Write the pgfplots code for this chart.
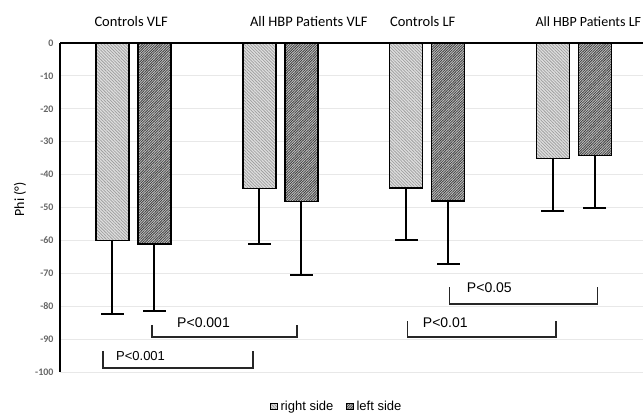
\documentclass[border=0pt]{standalone}
\usepackage{pgfplots}
\pgfplotsset{compat=1.18}
\usepackage{fontspec}
\setmainfont{Carlito}
\newfontfamily\arial{Liberation Sans}
\usetikzlibrary{patterns.meta,calc}

\pgfplotsset{
  rightstyle/.style={draw=black, line width=1.5pt, fill=gray!25,
    postaction={pattern={Lines[angle=-45,distance=2.2pt,line width=0.75pt]}, pattern color=gray!75}},
  leftstyle/.style={draw=black, line width=1.5pt, fill=gray!45,
    postaction={pattern={Lines[angle=45,distance=1.8pt,line width=0.8pt]}, pattern color=black!75}},
  sqlegend/.style={legend image code/.code={\draw[##1, line width=0.8pt] (0pt,-3.2pt) rectangle (6.4pt,3.2pt);}},
}
\newcommand{\tl}[1]{\textbf{\fontsize{10}{12}\selectfont #1}}

\begin{document}
\begin{tikzpicture}
\begin{axis}[
  name=ax,
  scale only axis, width=583pt, height=329pt,
  xmin=-0.5, xmax=3.47, ymin=-100, ymax=0,
  ybar, bar width=0.225,
  clip=false,
  axis x line*=top, axis y line*=left,
  axis line style={line width=1.7pt, black},
  xtick=\empty,
  ytick={0,-10,-20,-30,-40,-50,-60,-70,-80,-90,-100},
  yticklabels={\tl{0},\tl{-10},\tl{-20},\tl{-30},\tl{-40},\tl{-50},\tl{-60},\tl{-70},\tl{-80},\tl{-90},\tl{-100}},
  major tick length=0pt,
  ymajorgrids, grid style={gray!18, line width=0.9pt},
  y tick label style={text=black!60, xshift=-3pt},
  ylabel={Phi (°)},
  y label style={at={(axis description cs:-0.0686,0.525)}, anchor=center, font=\fontsize{14}{16}\selectfont},
  legend style={at={(0.475,-0.105)}, anchor=center, draw=none, legend columns=2,
    font=\arial\fontsize{13}{15}\selectfont, inner sep=0pt,
    /tikz/every even column/.append style={column sep=11pt},
    /tikz/every odd column/.append style={column sep=1pt}},
  legend cell align=left,
]
\coordinate (pl) at (rel axis cs:0,0);
\coordinate (pr) at (rel axis cs:1,1);

\addplot[bar shift=-0.143, rightstyle, sqlegend,
  error bars/.cd, y dir=minus, y explicit,
  error bar style={line width=2pt, black},
  error mark options={rotate=90, mark size=11.5pt, line width=2pt, black}]
  coordinates {(0,-60.1) -= (0,22.2) (1,-44.2) -= (0,17.0) (2,-44.0) -= (0,16.0) (3,-35.1) -= (0,16.0)};
\addlegendentry{right side}

\addplot[bar shift=0.143, leftstyle, sqlegend,
  error bars/.cd, y dir=minus, y explicit,
  error bar style={line width=2pt, black},
  error mark options={rotate=90, mark size=11.5pt, line width=2pt, black}]
  coordinates {(0,-61.1) -= (0,20.4) (1,-48.1) -= (0,22.5) (2,-48.0) -= (0,19.1) (3,-34.2) -= (0,16.1)};
\addlegendentry{left side}

% category labels
\node[font=\fontsize{14.5}{17}\selectfont] at (axis cs:-0.015,6.6) {Controls VLF};
\node[font=\fontsize{14.5}{17}\selectfont, anchor=west] at (axis cs:0.77,6.6) {All HBP Patients VLF};
\node[font=\fontsize{14.5}{17}\selectfont] at (axis cs:1.97,6.6) {Controls LF};
\node[font=\fontsize{14}{17}\selectfont, anchor=west, inner xsep=1pt] at (axis cs:2.73,6.6) {All HBP Patients LF};

% significance brackets
\draw[line width=1.6pt, black!85] (axis cs:-0.208,-93.6) |- (axis cs:0.815,-98.8) -- (axis cs:0.815,-93.6);
\node[anchor=west, inner sep=0pt, font=\arial\fontsize{13}{15}\selectfont] at (axis cs:-0.119,-95.1) {P<0.001};
\draw[line width=1.6pt, black!85] (axis cs:0.126,-85.7) |- (axis cs:1.115,-89.4) -- (axis cs:1.115,-85.7);
\node[anchor=west, inner sep=0pt, font=\arial\fontsize{14}{16}\selectfont] at (axis cs:0.297,-85.0) {P<0.001};
\draw[line width=1.6pt, black!85] (axis cs:2.152,-74.2) |- (axis cs:3.16,-79.3) -- (axis cs:3.16,-74.2);
\node[anchor=west, inner sep=0pt, font=\arial\fontsize{14}{16}\selectfont] at (axis cs:2.27,-74.5) {P<0.05};
\draw[line width=1.6pt, black!85] (axis cs:1.866,-84.5) |- (axis cs:2.876,-89.4) -- (axis cs:2.876,-84.5);
\node[anchor=west, inner sep=0pt, font=\arial\fontsize{14}{16}\selectfont] at (axis cs:1.97,-85.0) {P<0.01};
\end{axis}
\pgfresetboundingbox
\path[use as bounding box] ($(pl)+(-60pt,-41pt)$) rectangle ($(pr)+(0pt,43pt)$);
\end{tikzpicture}
\end{document}
